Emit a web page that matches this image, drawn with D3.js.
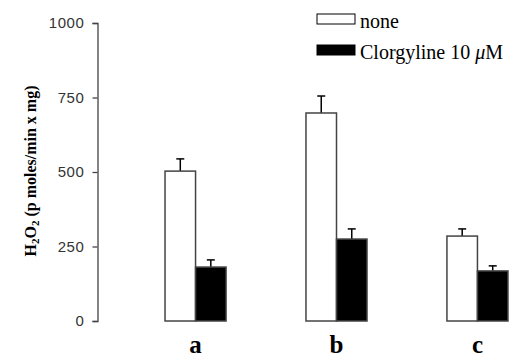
<!DOCTYPE html>
<html>
<head>
<meta charset="utf-8">
<script src="https://cdn.jsdelivr.net/npm/d3@7"></script>
<style>
  body { margin: 0; background: #fff; }
  svg { display: block; }
</style>
</head>
<body>
<svg></svg>
<script>
let width = 515
let height = 359

// data
let groups = ['a', 'b', 'c']
let series = ['none', 'Clorgyline 10 \u03bcM']
let noneValues = [503, 698, 285]
let noneErrors = [41, 57, 24]
let clorgValues = [181, 275, 168]
let clorgErrors = [24, 34, 17]
let yTicks = [0, 250, 500, 750, 1000]

let colors = ['#ffffff', '#000000']

let svg = d3.select('svg')
            .attr('width', width)
            .attr('height', height)

let y = d3.scaleLinear()
          .domain([0, 1000])
          .range([321, 23])

let x = d3.scaleBand()
          .domain(groups)
          .range([125, 548])
          .paddingInner(0.567)
          .paddingOuter(0.284)

let xSub = d3.scaleBand()
             .domain([0, 1])
             .range([0, x.bandwidth()])

let rows = []
groups.forEach((g, i) => {
    rows.push({ group: g, s: 0, value: noneValues[i], err: noneErrors[i] })
    rows.push({ group: g, s: 1, value: clorgValues[i], err: clorgErrors[i] })
})

// y axis
let yAxis = d3.axisLeft(y)
              .tickValues(yTicks)
              .tickFormat(d3.format('d'))
              .tickSize(5)
              .tickSizeOuter(5)
              .tickPadding(8)

let ax = svg.append('g')
            .attr('transform', 'translate(97.5,0)')
            .call(yAxis)

ax.select('.domain').attr('stroke', '#444').attr('stroke-width', 1.3)
ax.selectAll('.tick line').attr('stroke', '#444').attr('stroke-width', 1.3)
ax.selectAll('.tick text')
  .attr('font-family', 'Liberation Sans, Arial, sans-serif')
  .attr('font-size', 15)
  .attr('letter-spacing', 0.6)
  .attr('fill', '#333')

// error bars
let eb = svg.append('g')
rows.forEach(d => {
    let cx = x(d.group) + xSub(d.s) + xSub.bandwidth() / 2
    eb.append('line')
      .attr('x1', cx).attr('x2', cx)
      .attr('y1', y(d.value)).attr('y2', y(d.value + d.err))
      .attr('stroke', '#000').attr('stroke-width', 1.5)
    eb.append('line')
      .attr('x1', cx - 4).attr('x2', cx + 4)
      .attr('y1', y(d.value + d.err)).attr('y2', y(d.value + d.err))
      .attr('stroke', '#000').attr('stroke-width', 1.5)
})

// bars
svg.append('g')
   .selectAll('rect')
   .data(rows)
   .enter()
   .append('rect')
   .attr('x', d => x(d.group) + xSub(d.s))
   .attr('y', d => y(d.value))
   .attr('width', xSub.bandwidth())
   .attr('height', d => y(0) - y(d.value))
   .attr('fill', d => colors[d.s])
   .attr('stroke', '#444')
   .attr('stroke-width', 1.5)

// category labels
svg.append('g')
   .selectAll('text')
   .data(groups)
   .enter()
   .append('text')
   .attr('x', d => x(d) + x.bandwidth() / 2)
   .attr('y', 353)
   .attr('text-anchor', 'middle')
   .attr('font-family', 'Liberation Serif, Times New Roman, serif')
   .attr('font-weight', 'bold')
   .attr('font-size', 25)
   .text(d => d)

// y axis title
let title = svg.append('text')
   .attr('transform', 'translate(36,171) rotate(-90)')
   .attr('text-anchor', 'middle')
   .attr('font-family', 'Liberation Serif, Times New Roman, serif')
   .attr('font-weight', 'bold')
   .attr('font-size', 16)
title.append('tspan').text('H')
title.append('tspan').attr('font-size', 11).attr('dy', 3).text('2')
title.append('tspan').attr('dy', -3).text('O')
title.append('tspan').attr('font-size', 11).attr('dy', 3).text('2')
title.append('tspan').attr('dy', -3).text(' (p moles/min x mg)')

// legend
let legend = svg.append('g')
series.forEach((s, i) => {
    let ly = 14 + i * 31
    legend.append('rect')
          .attr('x', 317).attr('y', ly)
          .attr('width', 38).attr('height', 10)
          .attr('fill', colors[i])
          .attr('stroke', '#000').attr('stroke-width', 1)
    let t = legend.append('text')
          .attr('x', 360).attr('y', ly + 14)
          .attr('font-family', 'Liberation Serif, Times New Roman, serif')
          .attr('font-size', 20)
    if (i === 0) {
        t.text(s)
    } else {
        t.append('tspan').text('Clorgyline 10 ')
        t.append('tspan').attr('font-style', 'italic').text('\u03bc')
        t.append('tspan').text('M')
    }
})
</script>
</body>
</html>
